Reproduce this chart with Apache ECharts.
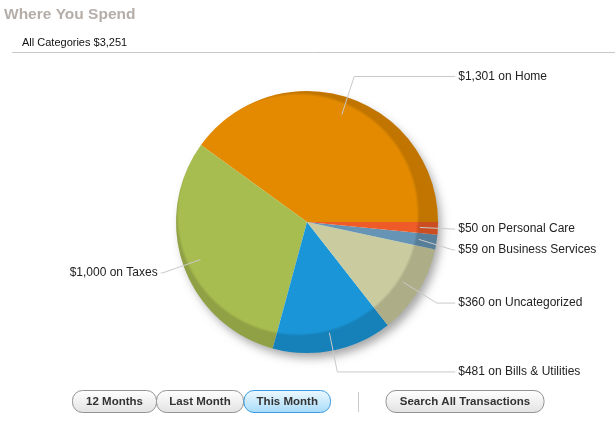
<!DOCTYPE html>
<html>
<head>
<meta charset="utf-8">
<script src="https://cdn.jsdelivr.net/npm/echarts@6/dist/echarts.min.js"></script>
<style>
  html, body { margin: 0; padding: 0; background: #ffffff; }
  #chart { width: 615px; height: 422px; }
</style>
</head>
<body>
<div id="chart"></div>
<script>
// ---- data ----
const chartTitle = 'Where You Spend';
const categories = ['Home', 'Taxes', 'Bills & Utilities', 'Uncategorized', 'Business Services', 'Personal Care'];
const amounts = [1301, 1000, 481, 360, 59, 50];
const buttonLabels = ['12 Months', 'Last Month', 'This Month'];
const selectedButton = 'This Month';
const searchLabel = 'Search All Transactions';

// ---- styles ----
const sliceColors = ['#E38A00', '#A8BD50', '#1A96D8', '#CBCBA0', '#6694B4', '#EE5B28'];
const FONT = '"Liberation Sans", Arial, sans-serif';
const money = v => '$' + v.toLocaleString('en-US');
const total = amounts.reduce((a, b) => a + b, 0);

const CENTER = [307, 222];
const R = 131;

// label line length / line-height overrides for crowded small slices (style only)
const lineLen = { 'Personal Care': 33, 'Business Services': 35 };
const labelLH = { 'Personal Care': 19, 'Business Services': 19 };

const chart = echarts.init(document.getElementById('chart'), null, { renderer: 'canvas' });

function buttonGroup(x, w, text, selected) {
  return {
    type: 'group',
    children: [
      {
        type: 'rect',
        shape: { x: x + 0.5, y: 390.5, width: w, height: 22, r: 10 },
        style: {
          fill: selected
            ? { type: 'linear', x: 0, y: 0, x2: 0, y2: 1, colorStops: [
                { offset: 0, color: '#EEF9FF' }, { offset: 1, color: '#A6DBF9' }] }
            : { type: 'linear', x: 0, y: 0, x2: 0, y2: 1, colorStops: [
                { offset: 0, color: '#FFFFFF' }, { offset: 1, color: '#E2E2E2' }] },
          stroke: selected ? '#3A9BE0' : '#939393',
          lineWidth: 1
        }
      },
      {
        type: 'text',
        x: x + 0.5 + w / 2, y: 401.5,
        style: {
          text: text, font: 'bold 11.5px ' + FONT, fill: '#333333',
          align: 'center', verticalAlign: 'middle'
        }
      }
    ]
  };
}

const btnX = [72, 156, 243.5];
const btnW = [84, 87, 86.5];

const option = {
  backgroundColor: '#ffffff',
  animation: false,
  graphic: [
    { type: 'text', x: 4, y: 14.5, style: { text: chartTitle, font: 'bold 15.5px ' + FONT, fill: '#B5AEA8', verticalAlign: 'middle' } },
    { type: 'text', x: 22, y: 43, style: { text: 'All Categories ' + money(total), font: '11px ' + FONT, fill: '#111111', verticalAlign: 'middle' } },
    { type: 'line', shape: { x1: 12, y1: 52.5, x2: 615, y2: 52.5 }, style: { stroke: '#C8C8C8', lineWidth: 1 } },
    ...buttonLabels.map((t, i) => buttonGroup(btnX[i], btnW[i], t, t === selectedButton)),
    { type: 'line', shape: { x1: 358.5, y1: 392, x2: 358.5, y2: 412 }, style: { stroke: '#CCCCCC', lineWidth: 1 } },
    buttonGroup(385.5, 158, searchLabel, false)
  ],
  series: [
    // soft drop shadow
    {
      type: 'pie', z: 1, silent: true, center: CENTER, radius: R - 1,
      label: { show: false }, labelLine: { show: false },
      itemStyle: { color: '#ffffff', borderWidth: 0, shadowBlur: 10, shadowOffsetX: 4, shadowOffsetY: 6, shadowColor: 'rgba(0,0,0,0.35)' },
      data: [{ value: 1 }]
    },
    // slices
    {
      type: 'pie', z: 2, center: CENTER, radius: R, startAngle: 0, clockwise: false,
      label: { show: false }, labelLine: { show: false },
      emphasis: { disabled: true },
      itemStyle: { borderWidth: 0 },
      data: categories.map((c, i) => ({ name: c, value: amounts[i], itemStyle: { color: sliceColors[i] } }))
    },
    // 3D rim shading
    {
      type: 'pie', z: 3, silent: true, center: CENTER, radius: R,
      label: { show: false }, labelLine: { show: false },
      itemStyle: {
        borderWidth: 0,
        color: { type: 'radial', x: 0.4649, y: 0.4706, r: 0.4649, colorStops: [
          { offset: 0, color: 'rgba(0,0,0,0)' },
          { offset: 0.975, color: 'rgba(0,0,0,0)' },
          { offset: 1, color: 'rgba(0,0,0,0.15)' }] }
      },
      data: [{ value: 1 }]
    },
    // labels
    {
      type: 'pie', z: 4, silent: true, center: CENTER, radius: 113, startAngle: 0, clockwise: false,
      itemStyle: { color: 'rgba(0,0,0,0)', borderWidth: 0 },
      label: {
        show: true, position: 'outer', alignTo: 'labelLine', distanceToLabelLine: 3,
        color: '#222222', fontFamily: FONT, fontSize: 12,
        formatter: p => money(p.value) + ' on ' + p.name
      },
      labelLine: { show: true, length: 40, length2: 2, lineStyle: { color: '#CACACA', width: 1 } },
      data: categories.map((c, i) => {
        const d = { name: c, value: amounts[i] };
        if (lineLen[c]) d.labelLine = { length: lineLen[c] };
        if (labelLH[c]) d.label = { lineHeight: labelLH[c] };
        return d;
      })
    }
  ]
};
chart.setOption(option);
</script>
</body>
</html>
